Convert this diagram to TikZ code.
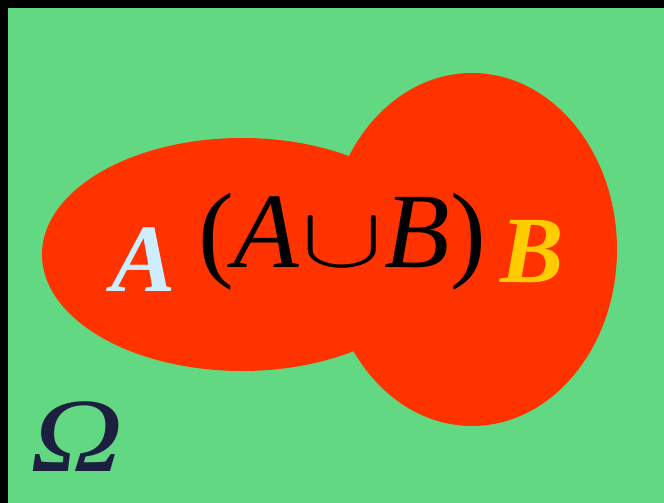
\documentclass[tikz,border=0pt]{standalone}
\usepackage{fontspec}
\setmainfont{Liberation Serif}
\usepackage{tikz}
\definecolor{omegagreen}{HTML}{63D882}
\definecolor{setred}{HTML}{FF3300}
\definecolor{labelblue}{HTML}{CCEEFF}
\definecolor{labelyellow}{HTML}{FFCC00}
\definecolor{omeganavy}{HTML}{1C1F40}

\begin{document}
\begin{tikzpicture}[
  x=0.02cm, y=-0.02cm,
  setfill/.style={fill=setred},
  lbl/.style={inner sep=0pt, anchor=base}
]
  % ── sample space ────────────────────────────────────────────────────────
  \fill[black] (0,0) rectangle (664,503);
  \fill[omegagreen] (8,8) rectangle (664,503);
  \useasboundingbox (0,0) rectangle (664,503);

  % ── sets A and B ────────────────────────────────────────────────────────
  \fill[setfill] (242,254.5) ellipse [x radius=200, y radius=116.5];
  \fill[setfill] (472,249.5) ellipse [x radius=145, y radius=176.5];

  % ── labels ──────────────────────────────────────────────────────────────
  \node[lbl, color=labelblue, font=\fontsize{55}{55}\selectfont\bfseries\itshape]
    (labelA) at (144,292) {A};
  \node[lbl, font=\fontsize{61}{61}\selectfont]
    (labelAB) at (342,268) {(\textit{A}\hspace{1pt}\raisebox{1pt}{\scalebox{2.8}[1.95]{$\cup$}}\hspace{1pt}\textit{B})};
  \node[lbl, color=labelyellow, font=\fontsize{54}{54}\selectfont\bfseries\itshape]
    (labelB) at (532,283) {B};
  \node[lbl, color=omeganavy, font=\fontsize{60}{60}\selectfont\itshape]
    (labelOmega) at (77,472) {\scalebox{1.22}[1]{Ω}};
\end{tikzpicture}
\end{document}
